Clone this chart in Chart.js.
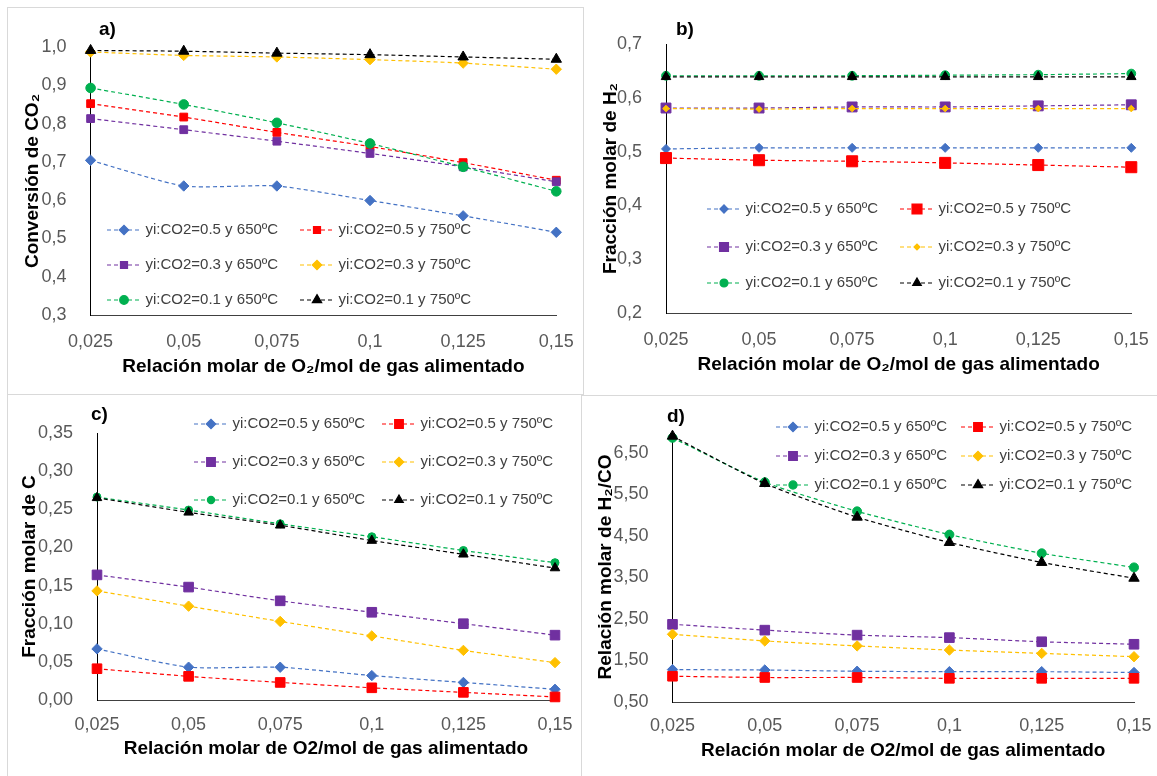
<!DOCTYPE html>
<html>
<head>
<meta charset="utf-8">
<script src="https://cdn.jsdelivr.net/npm/chart.js@4.4.0/dist/chart.umd.min.js"></script>
<style>
body { margin: 0; background: #fff; width: 1157px; height: 776px; overflow: hidden; position: relative; }
canvas { position: absolute; }
.ln { position: absolute; background: #d9d9d9; }
</style>
</head>
<body>
<div class="ln" style="left:7px;top:7px;width:577px;height:1px"></div>
<div class="ln" style="left:7px;top:7px;width:1px;height:769px"></div>
<div class="ln" style="left:583px;top:7px;width:1px;height:388px"></div>
<div class="ln" style="left:7px;top:394px;width:576px;height:1px"></div>
<div class="ln" style="left:581px;top:395px;width:1px;height:381px"></div>
<div class="ln" style="left:581px;top:395px;width:576px;height:1px"></div>

<canvas id="chartA" width="574" height="385" style="left:8px;top:8px"></canvas>
<canvas id="chartB" width="573" height="386" style="left:584px;top:8px"></canvas>
<canvas id="chartC" width="572" height="381" style="left:8px;top:395px"></canvas>
<canvas id="chartD" width="575" height="380" style="left:582px;top:396px"></canvas>

<script>
// O2 fed per mol of gas
const xLabels = ['0,025', '0,05', '0,075', '0,1', '0,125', '0,15'];

const seriesNames = [
  'yi:CO2=0.5 y 650ºC', 'yi:CO2=0.5 y 750ºC',
  'yi:CO2=0.3 y 650ºC', 'yi:CO2=0.3 y 750ºC',
  'yi:CO2=0.1 y 650ºC', 'yi:CO2=0.1 y 750ºC'
];

// a) CO2 conversion
const co2Conversion = [
  [0.704, 0.637, 0.637, 0.599, 0.559, 0.516],
  [0.852, 0.817, 0.777, 0.740, 0.698, 0.652],
  [0.813, 0.784, 0.754, 0.722, 0.687, 0.648],
  [0.987, 0.978, 0.974, 0.967, 0.958, 0.942],
  [0.893, 0.850, 0.802, 0.748, 0.687, 0.623],
  [0.991, 0.989, 0.984, 0.980, 0.974, 0.968]
];

// b) H2 mole fraction
const h2Fraction = [
  [0.505, 0.507, 0.507, 0.507, 0.507, 0.507],
  [0.488, 0.484, 0.482, 0.479, 0.475, 0.471],
  [0.581, 0.581, 0.583, 0.583, 0.585, 0.587],
  [0.580, 0.579, 0.580, 0.580, 0.580, 0.580],
  [0.641, 0.641, 0.641, 0.642, 0.643, 0.645],
  [0.639, 0.639, 0.639, 0.639, 0.639, 0.639]
];

// c) C mole fraction
const carbonFraction = [
  [0.067, 0.043, 0.043, 0.032, 0.023, 0.014],
  [0.041, 0.031, 0.023, 0.016, 0.010, 0.004],
  [0.164, 0.148, 0.130, 0.115, 0.100, 0.085],
  [0.143, 0.123, 0.103, 0.084, 0.065, 0.049],
  [0.266, 0.249, 0.231, 0.214, 0.196, 0.180],
  [0.265, 0.246, 0.229, 0.209, 0.191, 0.173]
];

// d) H2/CO ratio
const h2CoRatio = [
  [1.28, 1.27, 1.24, 1.23, 1.23, 1.21],
  [1.12, 1.09, 1.09, 1.07, 1.07, 1.07],
  [2.37, 2.23, 2.11, 2.05, 1.95, 1.89],
  [2.13, 1.97, 1.85, 1.75, 1.67, 1.59],
  [6.86, 5.79, 5.09, 4.53, 4.08, 3.74],
  [6.90, 5.76, 4.95, 4.34, 3.86, 3.48]
];

const ticksA = [0.3, 0.4, 0.5, 0.6, 0.7, 0.8, 0.9, 1.0];
const ticksB = [0.2, 0.3, 0.4, 0.5, 0.6, 0.7];
const ticksC = [0, 0.05, 0.10, 0.15, 0.20, 0.25, 0.30, 0.35];
const ticksD = [0.5, 1.5, 2.5, 3.5, 4.5, 5.5, 6.5];

const colors = ['#4472C4', '#FF0000', '#7030A0', '#FFC000', '#00B050', '#000000'];
const shapes = ['rectRot', 'rect', 'rect', 'rectRot', 'circle', 'triangle'];

Chart.defaults.font.family = '"Liberation Sans", Arial, sans-serif';

// legend drawn inside the plot, 2 columns x 3 rows, plus the panel letter
const panelLegend = {
  id: 'panelLegend',
  afterDraw(chart, args, o) {
    const ctx = chart.ctx;
    chart.data.datasets.forEach(function (ds, i) {
      const mx = o.cols[i % 2];
      const y = o.rows[Math.floor(i / 2)];
      ctx.save();
      ctx.strokeStyle = ds.borderColor;
      ctx.fillStyle = ds.borderColor;
      ctx.lineWidth = ds.borderWidth;
      ctx.setLineDash(ds.borderDash);
      ctx.beginPath();
      ctx.moveTo(mx - 17, y);
      ctx.lineTo(mx + 17, y);
      ctx.stroke();
      ctx.setLineDash([]);
      Chart.helpers.drawPoint(ctx, { pointStyle: ds.pointStyle, radius: ds.pointRadius * 0.9, borderWidth: 1, rotation: 0 }, mx, y);
      ctx.fillStyle = '#404040';
      ctx.font = '15px "Liberation Sans", Arial, sans-serif';
      ctx.textBaseline = 'middle';
      ctx.textAlign = 'left';
      ctx.fillText(ds.label, mx + 21.5, y);
      ctx.restore();
    });
    ctx.save();
    ctx.fillStyle = '#000';
    ctx.font = 'bold 19px "Liberation Sans", Arial, sans-serif';
    ctx.textBaseline = 'middle';
    ctx.fillText(o.letter, o.letterX, o.letterY);
    ctx.restore();
  }
};

function makePanel(id, box, area, p) {
  const yWidth = area.l - box.x;
  const xHeight = box.y + box.h - area.b;
  const datasets = p.values.map(function (vals, i) {
    return {
      label: seriesNames[i],
      data: vals,
      borderColor: colors[i],
      backgroundColor: colors[i],
      pointBackgroundColor: colors[i],
      pointBorderColor: colors[i],
      borderWidth: 1.2,
      borderDash: [4, 3],
      pointStyle: shapes[i],
      pointRadius: p.radius[i],
      pointBorderWidth: 1,
      tension: 0.2,
      clip: false,
      order: -i
    };
  });
  return new Chart(document.getElementById(id), {
    type: 'line',
    data: { labels: xLabels, datasets: datasets },
    plugins: [panelLegend],
    options: {
      responsive: false,
      animation: false,
      layout: { padding: { left: 0, top: area.t - box.y, right: box.x + box.w - area.r, bottom: 0 } },
      plugins: {
        legend: { display: false },
        tooltip: { enabled: false },
        panelLegend: {
          cols: p.legendCols.map(v => v - box.x),
          rows: p.legendRows.map(v => v - box.y),
          letter: p.letter,
          letterX: p.letterPos[0] - box.x,
          letterY: p.letterPos[1] - box.y
        }
      },
      scales: {
        x: {
          type: 'category',
          offset: false,
          grid: { display: false },
          border: { display: true, color: '#404040', width: 1 },
          ticks: { font: { size: 18 }, color: '#595959', padding: p.xTickCenter - area.b - 16.8, maxRotation: 0, autoSkip: false },
          title: {
            display: true, text: p.xTitle, color: '#000',
            font: { size: 19, weight: 'bold' },
            padding: { top: 0, bottom: box.y + box.h - p.xTitleCenter - 11.4 }
          },
          afterFit: function (s) { s.height = xHeight; }
        },
        y: {
          type: 'linear',
          min: p.ticks[0],
          max: p.max,
          grid: { display: false },
          border: { display: true, color: '#000', width: 1 },
          afterBuildTicks: function (s) { s.ticks = p.ticks.map(v => ({ value: v })); },
          ticks: {
            font: { size: 18 }, color: '#595959', padding: 16,
            callback: v => v.toFixed(p.decimals).replace('.', ',')
          },
          title: {
            display: true, text: p.yTitle, color: '#000',
            font: { size: 19, weight: 'bold' },
            padding: { top: p.yTitleCenter - box.x - 11.4, bottom: 0 }
          },
          afterFit: function (s) { s.width = yWidth; }
        }
      }
    }
  });
}

makePanel('chartA', { x: 8, y: 8, w: 574, h: 385 }, { l: 90.6, t: 47, r: 557.5, b: 315 }, {
  values: co2Conversion, ticks: ticksA, max: 1.0, decimals: 1,
  radius: [5.2, 5.5, 5.5, 5.2, 4.8, 6],
  yTitle: 'Conversión de CO₂', xTitle: 'Relación molar de O₂/mol de gas alimentado',
  xTickCenter: 340, xTitleCenter: 367, yTitleCenter: 33,
  legendCols: [124, 317], legendRows: [230, 265, 300],
  letter: 'a)', letterPos: [99, 30]
});

makePanel('chartB', { x: 584, y: 8, w: 573, h: 386 }, { l: 666, t: 44, r: 1136, b: 313 }, {
  values: h2Fraction, ticks: ticksB, max: 0.7, decimals: 1,
  radius: [4.5, 7.8, 7, 3.3, 4.4, 5.5],
  yTitle: 'Fracción molar de H₂', xTitle: 'Relación molar de O₂/mol de gas alimentado',
  xTickCenter: 338, xTitleCenter: 365, yTitleCenter: 611,
  legendCols: [724, 917], legendRows: [209, 247, 283],
  letter: 'b)', letterPos: [676, 30]
});

makePanel('chartC', { x: 8, y: 395, w: 572, h: 381 }, { l: 97, t: 433, r: 555, b: 700 }, {
  values: carbonFraction, ticks: ticksC, max: 0.35, decimals: 2,
  radius: [5.2, 6.8, 6.8, 5.2, 4, 5.5],
  yTitle: 'Fracción molar de C', xTitle: 'Relación molar de O2/mol de gas alimentado',
  xTickCenter: 723, xTitleCenter: 749, yTitleCenter: 30,
  legendCols: [211, 399], legendRows: [424, 462, 500],
  letter: 'c)', letterPos: [91, 415]
});

makePanel('chartD', { x: 582, y: 396, w: 575, h: 380 }, { l: 672.5, t: 432, r: 1134, b: 702 }, {
  values: h2CoRatio, ticks: ticksD, max: 7, decimals: 2,
  radius: [5.2, 6.8, 6.8, 5.2, 4.5, 6],
  yTitle: 'Relación molar de H₂/CO', xTitle: 'Relación molar de O2/mol de gas alimentado',
  xTickCenter: 724, xTitleCenter: 751, yTitleCenter: 606,
  legendCols: [793, 978], legendRows: [427, 456, 485],
  letter: 'd)', letterPos: [667, 417]
});
</script>
</body>
</html>
